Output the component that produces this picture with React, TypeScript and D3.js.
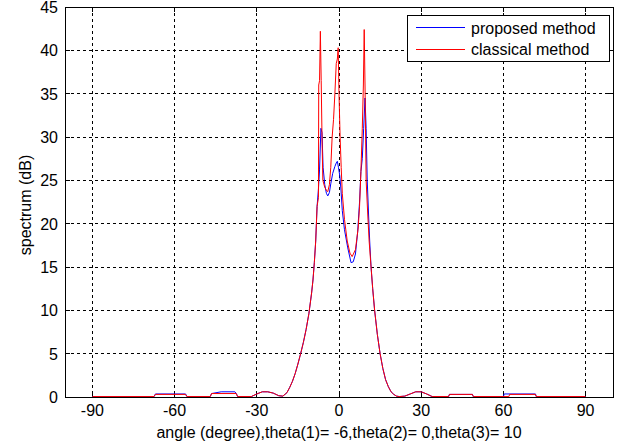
import React from "react";
import * as d3 from "d3";

const xTicks = [-90, -60, -30, 0, 30, 60, 90];
const yTicks = [0, 5, 10, 15, 20, 25, 30, 35, 40, 45];

const classicalAngle = [-90, -67.5, -67, -56, -55.5, -47, -46.5, -37.5, -37, -32, -30, -28, -26, -24, -22, -20.5, -19, -18, -17, -16, -15, -14, -13, -12, -11, -10, -9.5, -9, -8.5, -8, -7.5, -7.4, -7.1, -6.8, -6.5, -6.2, -5.9, -5.2, -4.5, -4.1, -3.5, -3, -2.5, -2, -1.5, -1, -0.6, -0.3, 0, 0.4, 0.8, 1.2, 2, 3, 4, 4.8, 6, 7, 7.5, 8, 8.5, 8.9, 9.2, 9.5, 9.9, 10.5, 11, 11.7, 12.3, 13, 14, 15, 16, 17, 18, 19, 20, 21, 22, 24, 26, 28, 30, 32, 34, 40, 40.3, 48.7, 49, 62, 62.3, 71.7, 72, 90];
const classicalDb = [0.05, 0.05, 0.3, 0.3, 0.05, 0.05, 0.4, 0.4, 0.05, 0.05, 0.35, 0.6, 0.6, 0.45, 0.15, 0.1, 0.5, 1.1, 1.8, 2.7, 3.8, 5, 6.3, 7.8, 9.6, 12, 13.5, 15.5, 18, 22, 23, 36, 36.5, 42.2, 36.5, 30, 25, 24.2, 23.8, 23.7, 24.5, 26.5, 30, 32, 35, 38.5, 39, 40.3, 35, 30, 26.5, 23.5, 20.5, 18, 16.6, 16.2, 17, 19.5, 22, 26, 31, 36, 42.4, 36, 25, 21, 18, 15, 12.5, 10, 7.2, 5, 3.3, 2, 1.2, 0.6, 0.3, 0.1, 0.05, 0.1, 0.35, 0.6, 0.6, 0.35, 0.05, 0.05, 0.3, 0.3, 0.05, 0.05, 0.3, 0.3, 0.05, 0.05];

const proposedAngle = [-90, -67.5, -67, -56, -55.5, -47, -46.5, -43, -38, -37.5, -37, -32, -30, -28, -26, -24, -22, -20.5, -19, -18, -17, -16, -15, -14, -13, -12, -11, -10, -9.5, -9, -8.5, -8, -7.5, -7.1, -6.6, -6.2, -5.8, -5.2, -4.6, -4.1, -3.5, -3, -2.3, -1.5, -1, -0.6, -0.2, 0.3, 0.7, 1.2, 2, 3.2, 4.4, 5.2, 6, 6.8, 7.5, 8, 8.5, 9, 9.5, 9.9, 10.3, 10.8, 11.2, 11.7, 12.3, 13, 14, 15, 16, 17, 18, 19, 20, 21, 22, 24, 26, 28, 30, 32, 34, 40, 40.3, 48.7, 49, 60, 60.3, 71.7, 72, 90];
const proposedDb = [0.05, 0.05, 0.35, 0.35, 0.05, 0.05, 0.4, 0.6, 0.6, 0.4, 0.05, 0.05, 0.35, 0.6, 0.6, 0.45, 0.15, 0.1, 0.5, 1.1, 1.8, 2.7, 3.8, 5, 6.3, 7.8, 9.6, 12, 13.5, 15.5, 18, 22, 24, 26.2, 31, 30.5, 26.5, 24.5, 23.5, 23.2, 23.6, 24.6, 25.8, 26.6, 27, 27.2, 26.5, 25.5, 24, 21.5, 19.3, 17.2, 15.5, 15.6, 16.5, 19, 22.5, 26, 27.5, 31, 34.5, 31, 25, 21, 18, 15, 12.5, 10, 7.2, 5, 3.3, 2, 1.2, 0.6, 0.3, 0.1, 0.05, 0.1, 0.35, 0.6, 0.6, 0.35, 0.05, 0.05, 0.3, 0.3, 0.05, 0.05, 0.35, 0.35, 0.05, 0.05];

const W = 624;
const H = 443;
const left = 65;
const right = 613;
const top = 7;
const bottom = 397;
const FONT = "'Liberation Sans', Arial, sans-serif";
const FS = 16;

export default function App() {
  const x = d3.scaleLinear().domain([-100, 100]).range([left, right]);
  const y = d3.scaleLinear().domain([0, 45]).range([bottom, top]);
  const line = d3
    .line<[number, number]>()
    .x((d) => x(d[0]))
    .y((d) => y(d[1]));
  const classical = classicalAngle.map((a, i) => [a, classicalDb[i]] as [number, number]);
  const proposed = proposedAngle.map((a, i) => [a, proposedDb[i]] as [number, number]);
  const tick = 5;

  return (
    <div style={{ position: "fixed", left: 0, top: 0, width: W, height: H, background: "#fff" }}>
      <svg width={W} height={H} style={{ display: "block" }}>
        <rect x={0} y={0} width={W} height={H} fill="#fff" />
        <rect x={left} y={top} width={right - left} height={bottom - top} fill="#fff" />
        {xTicks.map((t) => (
          <line key={"gx" + t} x1={x(t)} x2={x(t)} y1={top} y2={bottom} stroke="#000" strokeWidth={1} strokeDasharray="3,3" shapeRendering="crispEdges" />
        ))}
        {yTicks.filter((t) => t > 0 && t < 45).map((t) => (
          <line key={"gy" + t} x1={left} x2={right} y1={y(t)} y2={y(t)} stroke="#000" strokeWidth={1} strokeDasharray="3,3" shapeRendering="crispEdges" />
        ))}
        {xTicks.map((t) => (
          <g key={"tx" + t}>
            <line x1={x(t)} x2={x(t)} y1={bottom} y2={bottom - tick} stroke="#000" shapeRendering="crispEdges" />
            <line x1={x(t)} x2={x(t)} y1={top} y2={top + tick} stroke="#000" shapeRendering="crispEdges" />
            <text x={x(t)} y={416} textAnchor="middle" fontFamily={FONT} fontSize={FS} fill="#000">{t}</text>
          </g>
        ))}
        {yTicks.map((t) => (
          <g key={"ty" + t}>
            <line x1={left} x2={left + tick} y1={y(t)} y2={y(t)} stroke="#000" shapeRendering="crispEdges" />
            <line x1={right} x2={right - tick} y1={y(t)} y2={y(t)} stroke="#000" shapeRendering="crispEdges" />
            <text x={58} y={y(t) + 6} textAnchor="end" fontFamily={FONT} fontSize={FS} fill="#000">{t}</text>
          </g>
        ))}
        <path d={line(proposed) || ""} fill="none" stroke="#0000ff" strokeWidth={1} />
        <path d={line(classical) || ""} fill="none" stroke="#ff0000" strokeWidth={1} />
        <rect x={left} y={top} width={right - left} height={bottom - top} fill="none" stroke="#000" strokeWidth={1} shapeRendering="crispEdges" />
        <rect x={407} y={15} width={202} height={46} fill="#fff" stroke="#000" strokeWidth={1} shapeRendering="crispEdges" />
        <line x1={416} x2={465} y1={27.5} y2={27.5} stroke="#0000ff" />
        <text x={471} y={33.5} fontFamily={FONT} fontSize={FS} fill="#000">proposed method</text>
        <line x1={416} x2={465} y1={49.5} y2={49.5} stroke="#ff0000" />
        <text x={471} y={55} fontFamily={FONT} fontSize={FS} fill="#000">classical method</text>
        <text x={339} y={438} textAnchor="middle" fontFamily={FONT} fontSize={FS} fill="#000">
          angle (degree),theta(1)= -6,theta(2)= 0,theta(3)= 10
        </text>
        <text transform="translate(31,205) rotate(-90)" textAnchor="middle" fontFamily={FONT} fontSize={FS} fill="#000">
          spectrum (dB)
        </text>
      </svg>
    </div>
  );
}
